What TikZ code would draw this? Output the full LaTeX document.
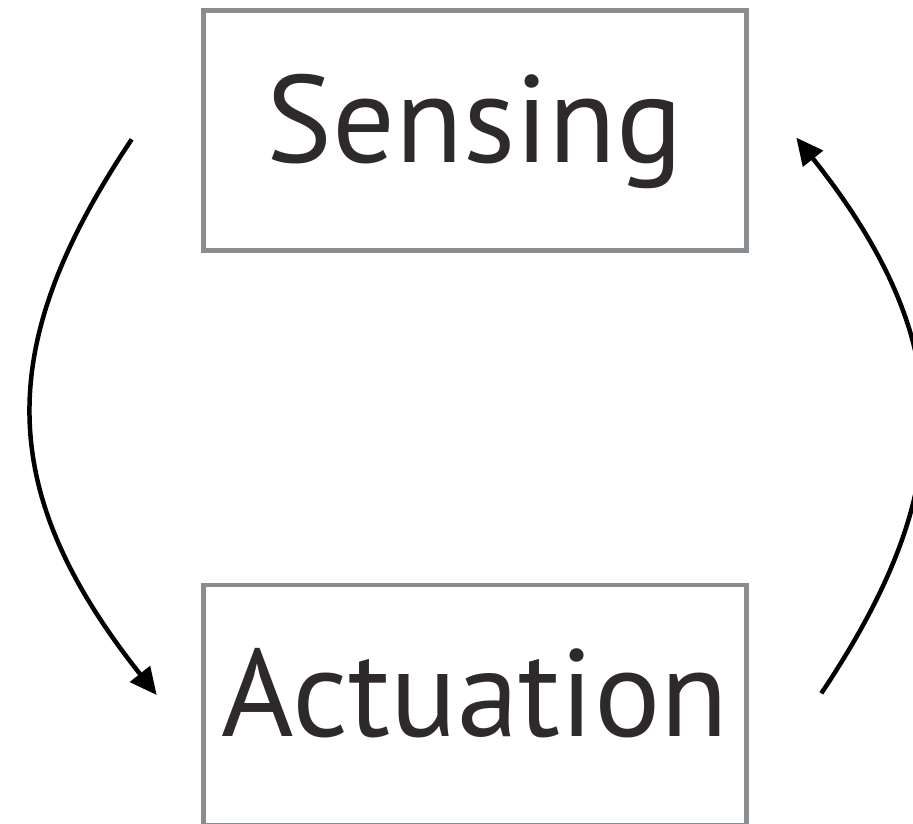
\documentclass[tikz,border=0pt]{standalone}
\usepackage{fontspec}
\setmainfont{PT Sans}
\usetikzlibrary{arrows.meta}
\definecolor{boxgray}{HTML}{8A8D90}
\definecolor{txtdark}{HTML}{2E2A2B}
\begin{document}
\begin{tikzpicture}[x=1pt,y=-1pt,
  stagebox/.style={draw=boxgray, line width=4.8pt, minimum width=543pt, minimum height=240pt,
    inner sep=0pt, text height=100pt, text depth=37pt, text=txtdark,
    font=\fontsize{124}{140}\selectfont},
  loopline/.style={line width=4.5pt, -{Triangle[length=27pt,width=25pt]}}]
\clip (0,0) rectangle (913,823);
\fill[white] (0,0) rectangle (913,823);
\node[stagebox] (sensing) at (475,130.5) {Sensing};
\node[stagebox] (actuation) at (475,705) {Actuation};
\coordinate (l0) at (131.7,139.3);
\coordinate (l1) at (156.7,695);
\coordinate (r0) at (821.3,693.3);
\coordinate (r1) at (796.3,137.6);
\draw[loopline] (l0) .. controls (-3.6,341.5) and (-8.6,487) .. (l1);
\draw[loopline] (r0) .. controls (956.6,491.1) and (961.6,345.6) .. (r1);
\end{tikzpicture}
\end{document}
